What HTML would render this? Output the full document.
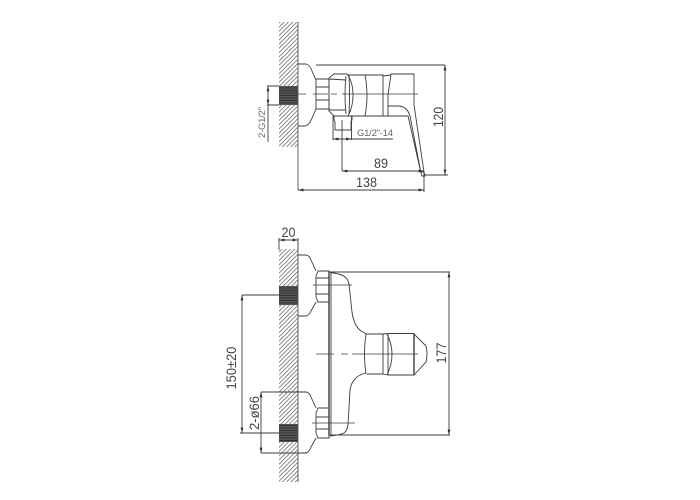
<!DOCTYPE html>
<html><head><meta charset="utf-8"><style>
html,body{margin:0;padding:0;background:#fff;width:700px;height:500px;overflow:hidden}
svg{display:block}
text{font-family:"Liberation Sans",sans-serif;fill:#444;text-anchor:middle}
</style></head><body>
<svg width="700" height="500" viewBox="0 0 700 500">
<defs>
<pattern id="h" width="3" height="3" patternUnits="userSpaceOnUse" patternTransform="rotate(-45)">
<rect width="3" height="3" fill="#fff"/><rect width="3" height="1" fill="#8a8a8a"/>
</pattern>
<pattern id="d" width="2.5" height="2.5" patternUnits="userSpaceOnUse">
<rect width="2.5" height="2.5" fill="#555"/><rect width="2.5" height="1" fill="#333"/>
</pattern>
<marker id="a" markerWidth="6" markerHeight="4" refX="6" refY="2" orient="auto-start-reverse"><path d="M0 0.4L6 2L0 3.6z" fill="#333"/></marker>
</defs>

<!-- walls -->
<rect x="279" y="22" width="19" height="125" fill="url(#h)"/>
<rect x="279" y="249" width="19" height="233" fill="url(#h)"/>
<rect x="279" y="86" width="19" height="19" fill="url(#d)"/>
<rect x="279" y="286" width="19" height="19" fill="url(#d)"/>
<rect x="279" y="424" width="19" height="18" fill="url(#d)"/>

<g fill="none" stroke="#3c3c3c" stroke-width=".9">
<path d="M298 22V190M298 249V482" stroke="#555"/>

<!-- TOP VIEW -->
<path d="M298 64H306Q310 65 312 71L316 80V109L312 118Q309 126 304 126H298"/>
<path d="M316 79H329V109H316M316 87H329M316 100H329"/>
<!-- large nut -->
<path d="M347 74H334L329 78V111L334 116H348M329 79L346 80M329 110L346 110"/>
<!-- lens -->
<path d="M346 76Q344 95 346 114M347 74Q353 82 353 95Q353 107 348 116"/>
<path d="M349 75Q350 95 349 114"/>
<!-- body -->
<path d="M348 75H383V116H348"/>
<path d="M365 75Q369 95 365 116"/>
<path d="M383 76L391 75"/>
<!-- handle -->
<path d="M391 74H414V105L424 172L425 176H422L421 173L410 116Q407 106 398 106H388M391 74L388 95V116M383 116H408L421 173"/>
<path d="M421 172L424 172"/>
<path d="M298 94H306M313 94H328M331 94H337M342 94H418" stroke-width=".8"/>
<path d="M334 116V120L335 122V130H351V122L352 120V116"/>

<!-- top dims -->
<path d="M316 65H445M424 175H448M424 172V192"/>
<path d="M445 65V175" marker-start="url(#a)" marker-end="url(#a)"/>
<path d="M342 120V171"/>
<path d="M342 171H424" marker-start="url(#a)" marker-end="url(#a)"/>
<path d="M298 190H424" marker-start="url(#a)" marker-end="url(#a)"/>
<path d="M333 116V140M351.500 116V140"/>
<path d="M333 139H351.500" marker-start="url(#a)" marker-end="url(#a)"/>
<path d="M351.500 139H393"/>
<path d="M267 86H279M267 105H279"/>
<path d="M268 86V105" marker-start="url(#a)" marker-end="url(#a)"/>
<path d="M268 105V142"/>

<!-- FRONT VIEW: escutcheons and nuts -->
<path d="M298 255H306Q309 255 311 260L316 271M316 302L311 311Q309 316 305 316H298"/>
<path d="M298 392H306Q309 392 311 397L316 408M316 438L311 447Q309 453 305 453H298"/>
<path d="M318 271H329V302H318L316 297V276ZM316 278H329M316 294H329"/>
<path d="M318 408H329V438H318L316 433V413ZM316 417H329M316 429H329"/>
<path d="M329 271V436" stroke-width="1.400"/>
<path d="M331 272V436"/>

<!-- body -->
<path d="M330 272.500Q342 274 345 277Q348 279 349 284L352 312Q354 326 361 331Q365 333 366 334"/>
<path d="M366 373Q358 375 355 379Q351 383 350 390L348 425Q347 431 344 433Q340 435 330 436"/>
<path d="M366 334H383M367 374H383M383 334V374"/>
<path d="M366 334Q363 354 366 374"/>
<path d="M387 334Q392 344 392 354Q392 365 387 375"/>
<path d="M383 334L387 333.500M383 374L387 375"/>
<path d="M388 333.500H414V375H388Z"/>
<path d="M414 334L426 346Q428 354 426 362L414 375"/>
<path d="M414 334V375" stroke-width="1.400"/>

<!-- centre lines -->
<path d="M316 354H334M341 354H348M352 354H418" stroke-width=".8"/>
<path d="M313 285H352M312 423H355" stroke-width=".8"/>

<!-- front dims -->
<path d="M279 238V250M298 238V250"/>
<path d="M279 240H298" marker-start="url(#a)" marker-end="url(#a)"/>
<path d="M330 272H450M330 435H450"/>
<path d="M449 272V435" marker-start="url(#a)" marker-end="url(#a)"/>
<path d="M242 295H280M240 433H298"/>
<path d="M242 295V433" marker-start="url(#a)" marker-end="url(#a)"/>
<path d="M261 392H307M261 453H307"/>
<path d="M261 392V453" marker-start="url(#a)" marker-end="url(#a)"/>
</g>

<!-- labels -->
<text x="366.500" y="187" font-size="14" textLength="21" lengthAdjust="spacingAndGlyphs">138</text>
<text x="381" y="168" font-size="14" textLength="14" lengthAdjust="spacingAndGlyphs">89</text>
<text x="375" y="136" font-size="9.500" textLength="36" lengthAdjust="spacing" style="fill:#666">G1/2"-14</text>
<text transform="translate(443,117) rotate(-90)" font-size="14" textLength="20" lengthAdjust="spacingAndGlyphs">120</text>
<text transform="translate(265,122.500) rotate(-90)" font-size="9.500" textLength="31" lengthAdjust="spacing" style="fill:#666">2-G1/2"</text>
<text x="288.500" y="237" font-size="14" textLength="14" lengthAdjust="spacingAndGlyphs">20</text>
<text transform="translate(446,353) rotate(-90)" font-size="14" textLength="21" lengthAdjust="spacingAndGlyphs">177</text>
<text transform="translate(236,368) rotate(-90)" font-size="14" textLength="43" lengthAdjust="spacingAndGlyphs">150±20</text>
<text transform="translate(259,413) rotate(-90)" font-size="14" textLength="34" lengthAdjust="spacingAndGlyphs">2-ø66</text>
</svg>
</body></html>
